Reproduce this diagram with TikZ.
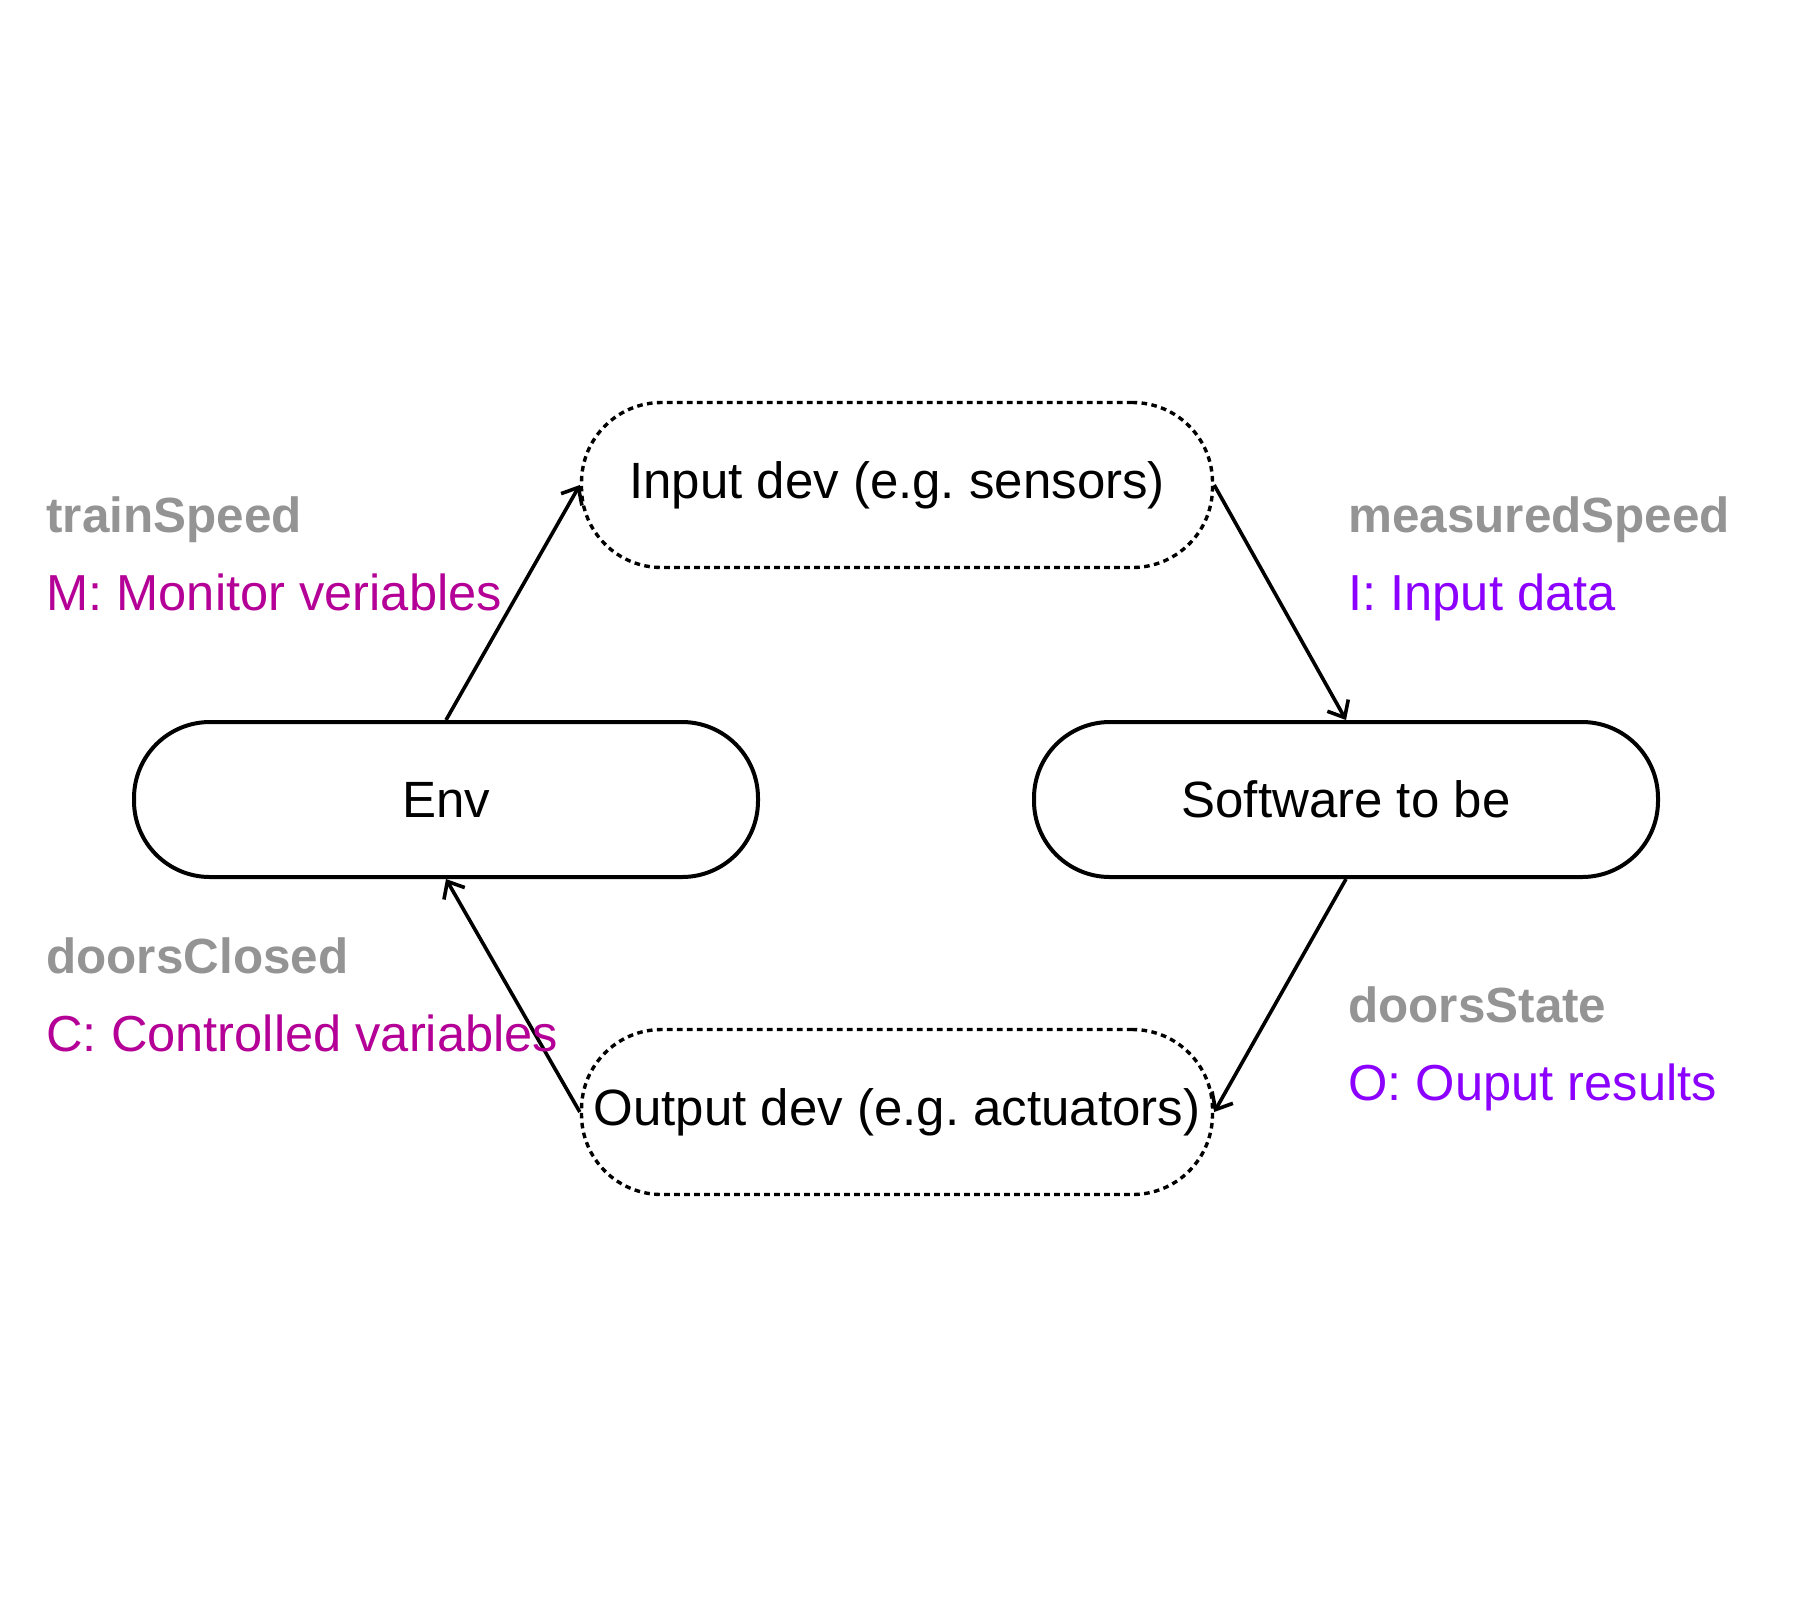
\documentclass[tikz,border=0pt]{standalone}
\usepackage{fontspec}
\setmainfont{Liberation Sans}
\usetikzlibrary{arrows.meta}
\definecolor{lblgray}{RGB}{148,148,148}
\definecolor{lblmag}{RGB}{180,0,150}
\definecolor{lblpur}{RGB}{140,0,255}
\frenchspacing
\tikzset{
  x=0.5pt, y=-0.5pt,
  solidbox/.style={draw=black, line width=2pt, fill=white, rounded corners=38pt,
    minimum width=312pt, minimum height=77.5pt, inner sep=0pt,
    font=\fontsize{25.5}{30}\selectfont},
  dashbox/.style={draw=black, line width=1.7pt, fill=white, rounded corners=40pt,
    dash pattern=on 2.8pt off 2.2pt,
    minimum width=315.5pt, minimum height=82.5pt, inner sep=0pt,
    font=\fontsize{25.5}{30}\selectfont},
  flow/.style={draw=black, line width=1.8pt, -{Straight Barb[length=7pt,width=12pt,line width=1.8pt]}},
  varname/.style={anchor=base west, inner sep=0pt, text=lblgray, font=\bfseries\fontsize{24.7}{30}\selectfont},
  magtxt/.style={anchor=base west, inner sep=0pt, text=lblmag, font=\fontsize{25.3}{30}\selectfont},
  purtxt/.style={anchor=base west, inner sep=0pt, text=lblpur, font=\fontsize{25.3}{30}\selectfont},
}
\begin{document}
\begin{tikzpicture}
\useasboundingbox[fill=white] (0,0) rectangle (1793,1597);

\node[dashbox] (in) at (897,485) {Input dev (e.g. sensors)};
\node[solidbox] (env) at (446,799.5) {Env};
\node[solidbox] (sw) at (1346,799.5) {Software to be};
\node[dashbox] (out) at (897,1112) {Output dev (e.g. actuators)};

\draw[flow] (env.north) -- (in.west);
\draw[flow] (in.east) -- (sw.north);
\draw[flow] (sw.south) -- (out.east);
\draw[flow] (out.west) -- (env.south);

\node[varname] (tsp) at (46,532) {trainSpeed};
\node[magtxt] (mon) at (46,610) {M: Monitor veriables};
\node[varname] (msp) at (1348,532) {measuredSpeed};
\node[purtxt] (inp) at (1348,610) {I: Input data};
\node[varname] (dcl) at (46,973) {doorsClosed};
\node[magtxt] (ctl) at (46,1051) {C: Controlled variables};
\node[varname] (dst) at (1348,1022) {doorsState};
\node[purtxt] (outr) at (1348,1100) {O: Ouput results};
\end{tikzpicture}
\end{document}
